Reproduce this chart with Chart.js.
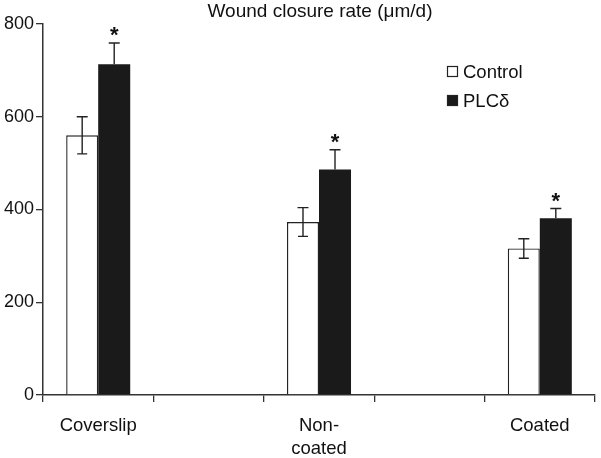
<!DOCTYPE html>
<html>
<head>
<meta charset="utf-8">
<script src="https://cdn.jsdelivr.net/npm/chart.js@4"></script>
<style>
  html, body { margin:0; padding:0; background:#fff; }
  #wrap { width:601px; height:458px; }
</style>
</head>
<body>
<div id="wrap"><canvas id="chart" width="601" height="458"></canvas></div>
<script>
const categories = ['Coverslip', '', ['Non-', 'coated'], '', 'Coated'];
const controlValues = [560, null, 373, null, 316];
const controlErrors = [40, null, 31, null, 21];
const plcValues = [713, null, 486, null, 381];
const plcErrors = [46, null, 43, null, 21];
const plcSignificant = [true, false, true, false, true];
const yTicks = [0, 200, 400, 600, 800];

const FONT = '"Liberation Sans", Arial, Helvetica, sans-serif';
const INK = '#222';

// error bars, asterisks, title and legend drawn on top of the bars
const extras = {
  id: 'extras',
  afterDatasetsDraw(chart) {
    const ctx = chart.ctx;
    const y = chart.scales.y;
    const errs = [controlErrors, plcErrors];
    ctx.save();
    ctx.strokeStyle = INK;
    ctx.lineWidth = 1.4;
    chart.data.datasets.forEach((ds, i) => {
      const meta = chart.getDatasetMeta(i);
      meta.data.forEach((bar, j) => {
        const v = ds.data[j];
        if (v === null) return;
        const e = errs[i][j];
        const top = y.getPixelForValue(v + e);
        const bot = y.getPixelForValue(i === 0 ? v - e : v);
        ctx.beginPath();
        ctx.moveTo(bar.x, bot); ctx.lineTo(bar.x, top);
        ctx.moveTo(bar.x - 5.5, top); ctx.lineTo(bar.x + 5.5, top);
        if (i === 0) { ctx.moveTo(bar.x - 5, bot); ctx.lineTo(bar.x + 5, bot); }
        ctx.stroke();
        if (i === 1 && plcSignificant[j]) {
          ctx.fillStyle = '#111';
          ctx.font = 'bold 22px ' + FONT;
          ctx.textAlign = 'center';
          ctx.textBaseline = 'alphabetic';
          ctx.fillText('*', bar.x, top - 1);
        }
      });
    });

    // title
    ctx.fillStyle = '#111';
    ctx.font = '19px ' + FONT;
    ctx.textAlign = 'center';
    ctx.textBaseline = 'middle';
    ctx.fillText('Wound closure rate (\u03bcm/d)', 320, 12);

    // legend
    ctx.font = '18.5px ' + FONT;
    ctx.textAlign = 'left';
    ctx.textBaseline = 'alphabetic';
    chart.data.datasets.forEach((ds, i) => {
      const by = 66 + i * 29;
      ctx.fillStyle = ds.backgroundColor;
      ctx.fillRect(447, by, 11, 11);
      ctx.strokeStyle = INK;
      ctx.lineWidth = 1.2;
      ctx.strokeRect(447.5, by + 0.5, 10, 10);
      ctx.fillStyle = '#111';
      ctx.fillText(ds.label, 463, by + 11.5);
    });
    ctx.restore();
  }
};

new Chart(document.getElementById('chart'), {
  type: 'bar',
  data: {
    labels: categories,
    datasets: [
      {
        label: 'Control',
        data: controlValues,
        backgroundColor: '#ffffff',
        borderColor: INK,
        borderWidth: 1.4,
        categoryPercentage: 0.58,
        barPercentage: 1.0
      },
      {
        label: 'PLC\u03b4',
        data: plcValues,
        backgroundColor: '#1a1a1a',
        borderWidth: 0,
        categoryPercentage: 0.58,
        barPercentage: 1.0
      }
    ]
  },
  options: {
    responsive: false,
    animation: false,
    devicePixelRatio: 1,
    layout: { padding: { top: 24, right: 6, left: 0, bottom: 0 } },
    plugins: { legend: { display: false }, tooltip: { enabled: false }, title: { display: false } },
    scales: {
      x: {
        grid: { drawOnChartArea: false, drawTicks: true, tickLength: 7, color: '#333', lineWidth: 1.3 },
        border: { display: true, color: '#333', width: 1.5 },
        ticks: { color: '#111', font: { family: FONT, size: 18.5, lineHeight: 1.25 }, padding: 12, maxRotation: 0, autoSkip: false },
        afterFit: s => { s.height = 63; }
      },
      y: {
        min: 0, max: 800,
        afterBuildTicks: s => { s.ticks = yTicks.map(v => ({ value: v })); },
        grid: { drawOnChartArea: false, drawTicks: true, tickLength: 7, color: '#333', lineWidth: 1.3 },
        border: { display: true, color: '#333', width: 1.5 },
        ticks: { color: '#111', font: { family: FONT, size: 18 }, padding: 2 },
        afterFit: s => { s.width = 43; }
      }
    }
  },
  plugins: [extras]
});
</script>
</body>
</html>
